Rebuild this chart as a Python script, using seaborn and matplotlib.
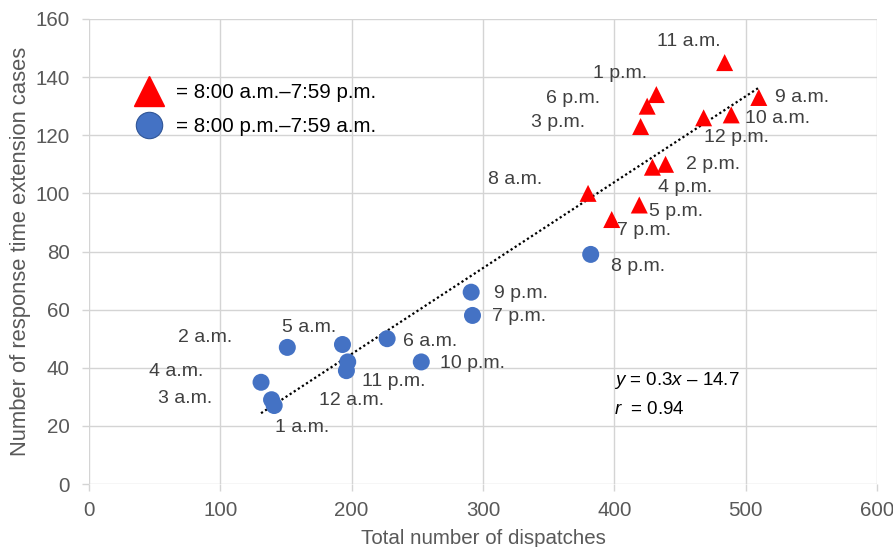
import numpy as np
import pandas as pd
import matplotlib
matplotlib.use("Agg")
import matplotlib.pyplot as plt
import seaborn as sns
from matplotlib.lines import Line2D

# ---- data ----
day_labels = ["8 a.m.", "9 a.m.", "10 a.m.", "11 a.m.", "12 p.m.", "1 p.m.",
              "2 p.m.", "3 p.m.", "4 p.m.", "5 p.m.", "6 p.m.", "7 p.m."]
day_dispatches = [380, 510, 489, 484, 468, 432, 439, 420, 429, 419, 425, 398]
day_cases = [100, 133, 127, 145, 126, 134, 110, 123, 109, 96, 130, 91]

night_labels = ["8 p.m.", "9 p.m.", "10 p.m.", "11 p.m.", "12 a.m.", "1 a.m.",
                "2 a.m.", "3 a.m.", "4 a.m.", "5 a.m.", "6 a.m.", "7 p.m."]
night_dispatches = [382, 291, 253, 197, 196, 141, 151, 139, 131, 193, 227, 292]
night_cases = [79, 66, 42, 42, 39, 27, 47, 29, 35, 48, 50, 58]

group_names = ["= 8:00 a.m.–7:59 p.m.", "= 8:00 p.m.–7:59 a.m."]
x_ticks = [0, 100, 200, 300, 400, 500, 600]
y_ticks = [0, 20, 40, 60, 80, 100, 120, 140, 160]

# label offsets in pixels (dx, dy, ha)
day_offsets = {"8 a.m.": (-46, 14, "right"), "9 a.m.": (16, 0, "left"),
               "10 a.m.": (14, -4, "left"), "11 a.m.": (-36, 21, "center"),
               "12 p.m.": (33, -20, "center"), "1 p.m.": (-36, 21, "center"),
               "2 p.m.": (20, 0, "left"), "3 p.m.": (-55, 4, "right"),
               "4 p.m.": (33, -20, "center"), "5 p.m.": (10, -7, "left"),
               "6 p.m.": (-47, 8, "right"), "7 p.m.": (5, -11, "left")}
night_offsets = {"8 p.m.": (20, -12, "left"), "9 p.m.": (23, -1, "left"),
                 "10 p.m.": (19, -2, "left"), "11 p.m.": (14, -20, "left"),
                 "12 a.m.": (5, -30, "center"), "1 a.m.": (1, -22, "left"),
                 "2 a.m.": (-55, 10, "right"), "3 a.m.": (-59, 1, "right"),
                 "4 a.m.": (-58, 11, "right"), "5 a.m.": (-33, 17, "center"),
                 "6 a.m.": (16, -3, "left"), "7 p.m.": (20, -1, "left")}

df = pd.DataFrame({
    "dispatches": day_dispatches + night_dispatches,
    "cases": day_cases + night_cases,
    "label": day_labels + night_labels,
    "group": [group_names[0]] * len(day_labels) + [group_names[1]] * len(night_labels),
})

sns.set_theme(style="white")
plt.rcParams["font.family"] = ["Liberation Sans", "DejaVu Sans"]
plt.rcParams["mathtext.fontset"] = "custom"
plt.rcParams["mathtext.it"] = "Liberation Sans:italic"
plt.rcParams["mathtext.rm"] = "Liberation Sans"

fig = plt.figure(figsize=(8.93, 5.47), dpi=100)
ax = fig.add_axes([89 / 893, 1 - 484 / 547, (877 - 89) / 893, (484 - 19) / 547])

red = "#ff0000"
blue = "#4472c4"
text_col = "#404040"
axis_col = "#595959"
grid_col = "#d4d4d4"

sns.regplot(data=df, x="dispatches", y="cases", scatter=False, ci=None, ax=ax,
            truncate=True,
            line_kws=dict(color="black", linestyle=(0, (1, 1.2)), linewidth=1.6))

sns.scatterplot(data=df, x="dispatches", y="cases", hue="group", style="group",
                palette={group_names[0]: red, group_names[1]: blue},
                markers={group_names[0]: "^", group_names[1]: "o"},
                s=150, linewidth=0, ax=ax, legend=False, zorder=3)

for lab, xv, yv in zip(day_labels, day_dispatches, day_cases):
    dx, dy, ha = day_offsets[lab]
    ax.annotate(lab, (xv, yv), xytext=(dx, dy), textcoords="offset pixels",
                ha=ha, va="center", fontsize=14, color=text_col)
for lab, xv, yv in zip(night_labels, night_dispatches, night_cases):
    dx, dy, ha = night_offsets[lab]
    ax.annotate(lab, (xv, yv), xytext=(dx, dy), textcoords="offset pixels",
                ha=ha, va="center", fontsize=14, color=text_col)

ax.set_xlim(x_ticks[0], x_ticks[-1])
ax.set_ylim(y_ticks[0], y_ticks[-1])
ax.set_xticks(x_ticks)
ax.set_yticks(y_ticks)
ax.grid(True, color=grid_col, linewidth=1)
ax.set_axisbelow(True)
for sp in ax.spines.values():
    sp.set_visible(False)
ax.tick_params(axis="both", direction="out", length=5, width=1, color=grid_col,
               labelsize=14.8, labelcolor=axis_col)
ax.tick_params(axis="x", bottom=True, pad=7.5)
ax.tick_params(axis="y", left=True, pad=9)
ax.set_xlabel("Total number of dispatches", fontsize=14.8, color=axis_col, labelpad=6)
ax.set_ylabel("Number of response time extension cases", fontsize=15.8, color=axis_col, labelpad=3)

handles = [Line2D([], [], marker="^", color=red, linestyle="", markersize=21),
           Line2D([], [], marker="o", color=blue, markeredgecolor="#2f5597",
                  markeredgewidth=0.8, linestyle="", markersize=19)]
leg = ax.legend(handles, group_names, loc="upper left", bbox_to_anchor=(0.039, 0.88),
                frameon=False, fontsize=14.8, handletextpad=0.35, labelspacing=0.75,
                borderaxespad=0)
for t in leg.get_texts():
    t.set_color("black")

ax.text(400, 35.5, "$y$ = 0.3$x$ – 14.7", fontsize=13.5, color="black", va="center")
ax.text(400, 25.8, "$r$  = 0.94", fontsize=13.5, color="black", va="center")

fig.savefig("out.png", dpi=100)
